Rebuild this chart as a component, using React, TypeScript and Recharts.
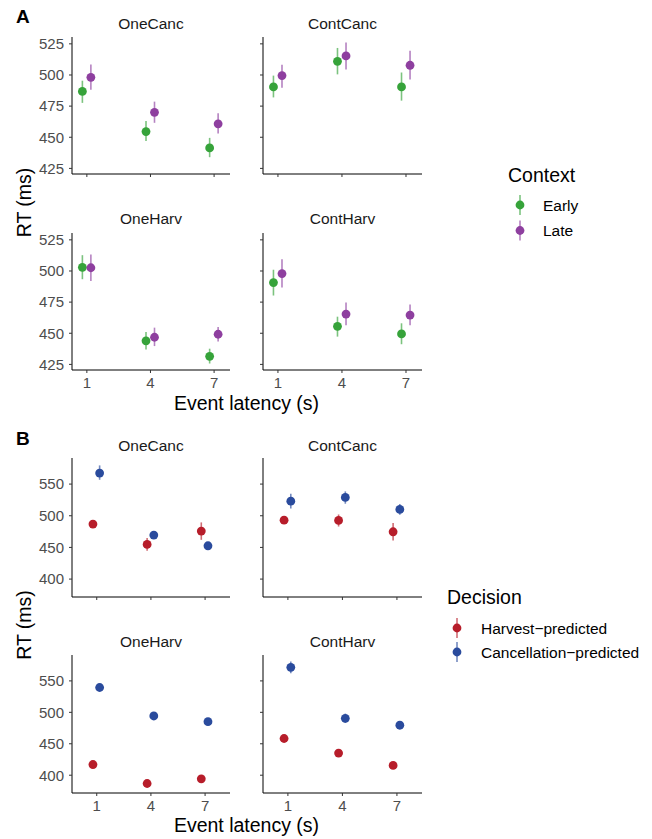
import React from 'react';
import { ScatterChart, Scatter, XAxis, YAxis, ErrorBar } from 'recharts';

// event latency categories (s)
const latencies = [1, 4, 7];

// Panel A: RT by context (mean, [lower, upper])
const oneCancEarly = [486.8, 454.6, 441.4];
const oneCancEarlyCI = [[477.6, 495.4], [447, 463], [434, 449.5]];
const oneCancLate = [498.1, 470, 460.8];
const oneCancLateCI = [[488.1, 508.4], [461.6, 478.6], [453, 469.2]];

const contCancEarly = [490.4, 511, 490.4];
const contCancEarlyCI = [[482, 499.5], [500.5, 521.7], [479.4, 502]];
const contCancLate = [499.5, 515.3, 507.8];
const contCancLateCI = [[489.8, 508.3], [504.5, 526], [496.3, 519.5]];

const oneHarvEarly = [502.9, 443.9, 431.5];
const oneHarvEarlyCI = [[493.4, 512.7], [437, 451], [425.7, 437.6]];
const oneHarvLate = [502.6, 446.8, 449.2];
const oneHarvLateCI = [[492, 513.2], [439.7, 454.5], [443.4, 455]];

const contHarvEarly = [490.7, 455.6, 449.5];
const contHarvEarlyCI = [[480.3, 501], [447.3, 463.3], [441.2, 458]];
const contHarvLate = [497.9, 465.4, 464.6];
const contHarvLateCI = [[486.8, 509.5], [456.4, 474.7], [456.4, 473]];

// Panel B: RT by predicted decision
const bOneCancHarv = [486.8, 454.7, 475.8];
const bOneCancHarvCI = [[483.5, 490], [444.7, 464.7], [462, 489.5]];
const bOneCancCanc = [567.4, 469.5, 452.6];
const bOneCancCancCI = [[556.8, 579.5], [466, 473], [449.5, 455.8]];

const bContCancHarv = [493, 492.6, 474.7];
const bContCancHarvCI = [[489.8, 496.2], [483, 502], [461, 488.4]];
const bContCancCanc = [523, 529, 510];
const bContCancCancCI = [[511.6, 534.7], [519, 538.5], [501.6, 518.4]];

const bOneHarvHarv = [417, 386.8, 394.2];
const bOneHarvHarvCI = [[414, 420], [384.5, 389], [391, 397.4]];
const bOneHarvCanc = [539.5, 494.2, 485.2];
const bOneHarvCancCI = [[535.5, 543.5], [491, 497.4], [482, 488.4]];

const bContHarvHarv = [458.4, 435.2, 415.6];
const bContHarvHarvCI = [[455.2, 461.6], [433, 437.4], [412.6, 418.6]];
const bContHarvCanc = [571.6, 490.5, 479.5];
const bContHarvCancCI = [[562, 581], [483, 498], [476.3, 482.7]];

const ticksA = [425, 450, 475, 500, 525];
const ticksB = [400, 450, 500, 550];

const FONT = '"Liberation Sans", Arial, Helvetica, sans-serif';
const GREEN = '#36a33a';
const GREEN_ERR = 'rgba(54,163,58,0.65)';
const PURPLE = '#8e3f9f';
const PURPLE_ERR = 'rgba(142,63,159,0.65)';
const RED = '#b71d2a';
const RED_ERR = 'rgba(183,29,42,0.65)';
const BLUE = '#2a4b9d';
const BLUE_ERR = 'rgba(42,75,157,0.65)';

const build = (means: number[], ci: number[][], shift: number) =>
  latencies.map((x, i) => ({
    x: x + shift,
    y: means[i],
    err: [means[i] - ci[i][0], ci[i][1] - means[i]],
  }));

interface Series {
  data: { x: number; y: number; err: number[] }[];
  color: string;
  errColor: string;
}

interface FacetProps {
  box: [number, number, number, number]; // x0, x1, y0, y1 of the plot area
  series: Series[];
  xDomain: [number, number];
  yDomain: [number, number];
  yTicks: number[];
  showX: boolean;
  showY: boolean;
}

const YW = 45;
const XH = 30;

const Facet: React.FC<FacetProps> = ({ box, series, xDomain, yDomain, yTicks, showX, showY }) => {
  const [x0, x1, y0, y1] = box;
  const w = x1 - x0 + YW + 5;
  const h = y1 - y0 + 5 + XH;
  const tickStyle = { fontSize: 15, fill: '#4d4d4d', fontFamily: FONT };
  return (
    <div style={{ position: 'absolute', left: x0 - YW, top: y0 - 5 }}>
      <ScatterChart width={w} height={h} margin={{ top: 5, right: 5, left: 0, bottom: 0 }}>
        <XAxis
          type="number"
          dataKey="x"
          domain={xDomain}
          ticks={latencies}
          allowDataOverflow
          height={XH}
          tickSize={3}
          tickMargin={4}
          stroke="#000"
          tickLine={{ stroke: '#333' }}
          tick={tickStyle}
          tickFormatter={(v) => (showX ? String(v) : '')}
        />
        <YAxis
          type="number"
          dataKey="y"
          domain={yDomain}
          ticks={yTicks}
          allowDataOverflow
          width={YW}
          tickSize={3}
          tickMargin={5}
          stroke="#000"
          tickLine={{ stroke: '#333' }}
          tick={tickStyle}
          tickFormatter={(v) => (showY ? String(v) : '')}
        />
        {series.map((s, i) => (
          <Scatter
            key={i}
            data={s.data}
            fill={s.color}
            isAnimationActive={false}
            shape={(p: any) => <circle cx={p.cx} cy={p.cy} r={4.4} fill={s.color} />}
          >
            <ErrorBar dataKey="err" direction="y" width={0} stroke={s.errColor} strokeWidth={1.6} />
          </Scatter>
        ))}
      </ScatterChart>
    </div>
  );
};

const xDomA: [number, number] = [0.3, 7.75];
const xDomB: [number, number] = [-0.37, 8.38];
const yDomA: [number, number] = [420.5, 530.5];
const yDomB: [number, number] = [371.7, 591.2];

const ctx = (early: number[], earlyCI: number[][], late: number[], lateCI: number[][]): Series[] => [
  { data: build(early, earlyCI, -0.21), color: GREEN, errColor: GREEN_ERR },
  { data: build(late, lateCI, 0.19), color: PURPLE, errColor: PURPLE_ERR },
];

const dec = (harv: number[], harvCI: number[][], canc: number[], cancCI: number[][]): Series[] => [
  { data: build(harv, harvCI, -0.21), color: RED, errColor: RED_ERR },
  { data: build(canc, cancCI, 0.16), color: BLUE, errColor: BLUE_ERR },
];

const LegendGlyph: React.FC<{ x: number; y: number; color: string; errColor: string }> = ({ x, y, color, errColor }) => (
  <g>
    <line x1={x} x2={x} y1={y - 10} y2={y + 10} stroke={errColor} strokeWidth={1.6} />
    <circle cx={x} cy={y} r={4.4} fill={color} />
  </g>
);

const App: React.FC = () => {
  const L: [number, number] = [72, 230];
  const R: [number, number] = [263, 422];
  return (
    <div style={{ position: 'absolute', left: 0, top: 0, width: 652, height: 839, background: '#fff', fontFamily: FONT }}>
      <Facet box={[...L, 37, 174]} series={ctx(oneCancEarly, oneCancEarlyCI, oneCancLate, oneCancLateCI)} xDomain={xDomA} yDomain={yDomA} yTicks={ticksA} showX={false} showY />
      <Facet box={[...R, 37, 174]} series={ctx(contCancEarly, contCancEarlyCI, contCancLate, contCancLateCI)} xDomain={xDomA} yDomain={yDomA} yTicks={ticksA} showX={false} showY={false} />
      <Facet box={[...L, 233, 370]} series={ctx(oneHarvEarly, oneHarvEarlyCI, oneHarvLate, oneHarvLateCI)} xDomain={xDomA} yDomain={yDomA} yTicks={ticksA} showX showY />
      <Facet box={[...R, 233, 370]} series={ctx(contHarvEarly, contHarvEarlyCI, contHarvLate, contHarvLateCI)} xDomain={xDomA} yDomain={yDomA} yTicks={ticksA} showX showY={false} />

      <Facet box={[...L, 458, 597]} series={dec(bOneCancHarv, bOneCancHarvCI, bOneCancCanc, bOneCancCancCI)} xDomain={xDomB} yDomain={yDomB} yTicks={ticksB} showX={false} showY />
      <Facet box={[...R, 458, 597]} series={dec(bContCancHarv, bContCancHarvCI, bContCancCanc, bContCancCancCI)} xDomain={xDomB} yDomain={yDomB} yTicks={ticksB} showX={false} showY={false} />
      <Facet box={[...L, 655, 793]} series={dec(bOneHarvHarv, bOneHarvHarvCI, bOneHarvCanc, bOneHarvCancCI)} xDomain={xDomB} yDomain={yDomB} yTicks={ticksB} showX showY />
      <Facet box={[...R, 655, 793]} series={dec(bContHarvHarv, bContHarvHarvCI, bContHarvCanc, bContHarvCancCI)} xDomain={xDomB} yDomain={yDomB} yTicks={ticksB} showX showY={false} />

      <svg width={652} height={839} style={{ position: 'absolute', left: 0, top: 0, pointerEvents: 'none' }} fontFamily={FONT}>
        <text x={16} y={23} fontSize={19} fontWeight="bold" fill="#000">A</text>
        <text x={16} y={445} fontSize={19} fontWeight="bold" fill="#000">B</text>

        <g fontSize={15.5} fill="#1a1a1a" textAnchor="middle" dominantBaseline="central">
          <text x={151} y={23}>OneCanc</text>
          <text x={342.5} y={23}>ContCanc</text>
          <text x={151} y={218.5}>OneHarv</text>
          <text x={342.5} y={218.5}>ContHarv</text>
          <text x={151} y={445}>OneCanc</text>
          <text x={342.5} y={445}>ContCanc</text>
          <text x={151} y={641.5}>OneHarv</text>
          <text x={342.5} y={641.5}>ContHarv</text>
        </g>

        <g fontSize={19.5} fill="#000" textAnchor="middle" dominantBaseline="central">
          <text x={246.5} y={402.7}>Event latency (s)</text>
          <text x={246.5} y={825}>Event latency (s)</text>
          <text transform="translate(24,202.5) rotate(-90)">RT (ms)</text>
          <text transform="translate(24,625) rotate(-90)">RT (ms)</text>
        </g>

        <text x={508} y={175} fontSize={19.5} fill="#000" dominantBaseline="central">Context</text>
        <LegendGlyph x={520} y={205} color={GREEN} errColor={GREEN_ERR} />
        <LegendGlyph x={520} y={230.5} color={PURPLE} errColor={PURPLE_ERR} />
        <text x={543} y={205} fontSize={15.5} fill="#000" dominantBaseline="central">Early</text>
        <text x={543} y={230.5} fontSize={15.5} fill="#000" dominantBaseline="central">Late</text>

        <text x={447} y={597} fontSize={19.5} fill="#000" dominantBaseline="central">Decision</text>
        <LegendGlyph x={457} y={628} color={RED} errColor={RED_ERR} />
        <LegendGlyph x={457} y={652} color={BLUE} errColor={BLUE_ERR} />
        <text x={481} y={628} fontSize={15.5} fill="#000" dominantBaseline="central">Harvest−predicted</text>
        <text x={481} y={652} fontSize={15.5} fill="#000" dominantBaseline="central">Cancellation−predicted</text>
      </svg>
    </div>
  );
};

export default App;
